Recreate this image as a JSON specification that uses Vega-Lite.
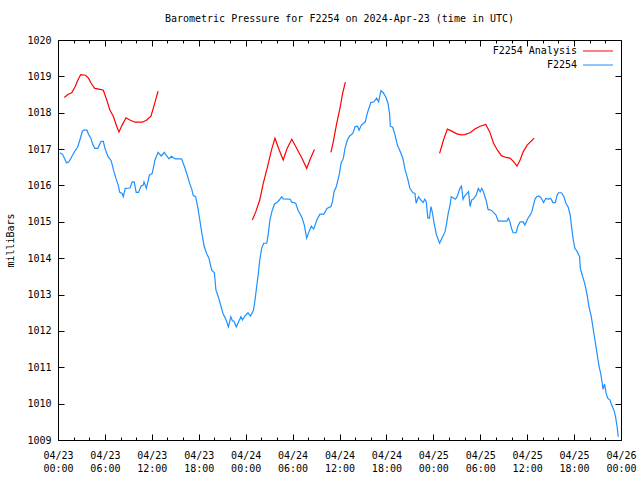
{
"$schema":"https://vega.github.io/schema/vega-lite/v6.json",
"width":563,"height":400,
"autosize":{"type":"none"},
"padding":{"left":58,"top":40,"right":19,"bottom":40},
"background":"white",
"title":{"text":"Barometric Pressure for F2254 on 2024-Apr-23 (time in UTC)","font":"DejaVu Sans Mono","fontSize":10,"fontWeight":"normal","color":"black","anchor":"middle","offset":11},
"data":{"values":[
{"t":"2024-04-23T00:15:00Z","p":1016.9,"s":"F2254","g":0},
{"t":"2024-04-23T00:36:00Z","p":1016.85,"s":"F2254","g":0},
{"t":"2024-04-23T01:06:00Z","p":1016.62,"s":"F2254","g":0},
{"t":"2024-04-23T01:24:00Z","p":1016.65,"s":"F2254","g":0},
{"t":"2024-04-23T01:45:00Z","p":1016.79,"s":"F2254","g":0},
{"t":"2024-04-23T02:12:00Z","p":1016.96,"s":"F2254","g":0},
{"t":"2024-04-23T02:30:00Z","p":1017.05,"s":"F2254","g":0},
{"t":"2024-04-23T02:48:00Z","p":1017.25,"s":"F2254","g":0},
{"t":"2024-04-23T03:06:00Z","p":1017.48,"s":"F2254","g":0},
{"t":"2024-04-23T03:15:00Z","p":1017.52,"s":"F2254","g":0},
{"t":"2024-04-23T03:42:00Z","p":1017.52,"s":"F2254","g":0},
{"t":"2024-04-23T03:54:00Z","p":1017.41,"s":"F2254","g":0},
{"t":"2024-04-23T04:12:00Z","p":1017.3,"s":"F2254","g":0},
{"t":"2024-04-23T04:24:00Z","p":1017.16,"s":"F2254","g":0},
{"t":"2024-04-23T04:42:00Z","p":1017.02,"s":"F2254","g":0},
{"t":"2024-04-23T05:06:00Z","p":1017.02,"s":"F2254","g":0},
{"t":"2024-04-23T05:30:00Z","p":1017.21,"s":"F2254","g":0},
{"t":"2024-04-23T05:48:00Z","p":1017.21,"s":"F2254","g":0},
{"t":"2024-04-23T06:00:00Z","p":1017.02,"s":"F2254","g":0},
{"t":"2024-04-23T06:24:00Z","p":1016.79,"s":"F2254","g":0},
{"t":"2024-04-23T06:48:00Z","p":1016.68,"s":"F2254","g":0},
{"t":"2024-04-23T07:06:00Z","p":1016.42,"s":"F2254","g":0},
{"t":"2024-04-23T07:24:00Z","p":1016.2,"s":"F2254","g":0},
{"t":"2024-04-23T07:42:00Z","p":1016.01,"s":"F2254","g":0},
{"t":"2024-04-23T07:54:00Z","p":1015.81,"s":"F2254","g":0},
{"t":"2024-04-23T08:12:00Z","p":1015.78,"s":"F2254","g":0},
{"t":"2024-04-23T08:21:00Z","p":1015.69,"s":"F2254","g":0},
{"t":"2024-04-23T08:36:00Z","p":1015.92,"s":"F2254","g":0},
{"t":"2024-04-23T09:12:00Z","p":1015.93,"s":"F2254","g":0},
{"t":"2024-04-23T09:30:00Z","p":1016.1,"s":"F2254","g":0},
{"t":"2024-04-23T09:45:00Z","p":1016.1,"s":"F2254","g":0},
{"t":"2024-04-23T10:00:00Z","p":1015.81,"s":"F2254","g":0},
{"t":"2024-04-23T10:18:00Z","p":1015.81,"s":"F2254","g":0},
{"t":"2024-04-23T10:36:00Z","p":1015.98,"s":"F2254","g":0},
{"t":"2024-04-23T10:54:00Z","p":1016.01,"s":"F2254","g":0},
{"t":"2024-04-23T11:00:00Z","p":1016.1,"s":"F2254","g":0},
{"t":"2024-04-23T11:18:00Z","p":1015.92,"s":"F2254","g":0},
{"t":"2024-04-23T11:42:00Z","p":1016.29,"s":"F2254","g":0},
{"t":"2024-04-23T12:03:00Z","p":1016.33,"s":"F2254","g":0},
{"t":"2024-04-23T12:24:00Z","p":1016.7,"s":"F2254","g":0},
{"t":"2024-04-23T12:48:00Z","p":1016.91,"s":"F2254","g":0},
{"t":"2024-04-23T13:12:00Z","p":1016.81,"s":"F2254","g":0},
{"t":"2024-04-23T13:36:00Z","p":1016.91,"s":"F2254","g":0},
{"t":"2024-04-23T13:54:00Z","p":1016.81,"s":"F2254","g":0},
{"t":"2024-04-23T14:12:00Z","p":1016.73,"s":"F2254","g":0},
{"t":"2024-04-23T14:30:00Z","p":1016.8,"s":"F2254","g":0},
{"t":"2024-04-23T15:00:00Z","p":1016.73,"s":"F2254","g":0},
{"t":"2024-04-23T15:48:00Z","p":1016.73,"s":"F2254","g":0},
{"t":"2024-04-23T16:12:00Z","p":1016.5,"s":"F2254","g":0},
{"t":"2024-04-23T16:30:00Z","p":1016.3,"s":"F2254","g":0},
{"t":"2024-04-23T16:51:00Z","p":1016.05,"s":"F2254","g":0},
{"t":"2024-04-23T17:06:00Z","p":1015.9,"s":"F2254","g":0},
{"t":"2024-04-23T17:18:00Z","p":1015.72,"s":"F2254","g":0},
{"t":"2024-04-23T17:36:00Z","p":1015.69,"s":"F2254","g":0},
{"t":"2024-04-23T17:54:00Z","p":1015.37,"s":"F2254","g":0},
{"t":"2024-04-23T18:12:00Z","p":1014.96,"s":"F2254","g":0},
{"t":"2024-04-23T18:24:00Z","p":1014.68,"s":"F2254","g":0},
{"t":"2024-04-23T18:42:00Z","p":1014.32,"s":"F2254","g":0},
{"t":"2024-04-23T19:00:00Z","p":1014.13,"s":"F2254","g":0},
{"t":"2024-04-23T19:18:00Z","p":1014.0,"s":"F2254","g":0},
{"t":"2024-04-23T19:39:00Z","p":1013.67,"s":"F2254","g":0},
{"t":"2024-04-23T20:00:00Z","p":1013.6,"s":"F2254","g":0},
{"t":"2024-04-23T20:12:00Z","p":1013.12,"s":"F2254","g":0},
{"t":"2024-04-23T20:30:00Z","p":1012.94,"s":"F2254","g":0},
{"t":"2024-04-23T20:48:00Z","p":1012.71,"s":"F2254","g":0},
{"t":"2024-04-23T21:06:00Z","p":1012.48,"s":"F2254","g":0},
{"t":"2024-04-23T21:30:00Z","p":1012.3,"s":"F2254","g":0},
{"t":"2024-04-23T21:48:00Z","p":1012.11,"s":"F2254","g":0},
{"t":"2024-04-23T22:06:00Z","p":1012.39,"s":"F2254","g":0},
{"t":"2024-04-23T22:18:00Z","p":1012.28,"s":"F2254","g":0},
{"t":"2024-04-23T22:30:00Z","p":1012.27,"s":"F2254","g":0},
{"t":"2024-04-23T22:48:00Z","p":1012.11,"s":"F2254","g":0},
{"t":"2024-04-23T23:06:00Z","p":1012.25,"s":"F2254","g":0},
{"t":"2024-04-23T23:24:00Z","p":1012.39,"s":"F2254","g":0},
{"t":"2024-04-23T23:36:00Z","p":1012.3,"s":"F2254","g":0},
{"t":"2024-04-23T23:54:00Z","p":1012.41,"s":"F2254","g":0},
{"t":"2024-04-24T00:18:00Z","p":1012.5,"s":"F2254","g":0},
{"t":"2024-04-24T00:36:00Z","p":1012.41,"s":"F2254","g":0},
{"t":"2024-04-24T01:00:00Z","p":1012.57,"s":"F2254","g":0},
{"t":"2024-04-24T01:12:00Z","p":1012.85,"s":"F2254","g":0},
{"t":"2024-04-24T01:24:00Z","p":1013.21,"s":"F2254","g":0},
{"t":"2024-04-24T01:36:00Z","p":1013.54,"s":"F2254","g":0},
{"t":"2024-04-24T01:48:00Z","p":1013.95,"s":"F2254","g":0},
{"t":"2024-04-24T02:03:00Z","p":1014.27,"s":"F2254","g":0},
{"t":"2024-04-24T02:18:00Z","p":1014.41,"s":"F2254","g":0},
{"t":"2024-04-24T02:42:00Z","p":1014.41,"s":"F2254","g":0},
{"t":"2024-04-24T02:54:00Z","p":1014.68,"s":"F2254","g":0},
{"t":"2024-04-24T03:06:00Z","p":1015.05,"s":"F2254","g":0},
{"t":"2024-04-24T03:24:00Z","p":1015.32,"s":"F2254","g":0},
{"t":"2024-04-24T03:42:00Z","p":1015.49,"s":"F2254","g":0},
{"t":"2024-04-24T04:00:00Z","p":1015.53,"s":"F2254","g":0},
{"t":"2024-04-24T04:18:00Z","p":1015.6,"s":"F2254","g":0},
{"t":"2024-04-24T04:36:00Z","p":1015.69,"s":"F2254","g":0},
{"t":"2024-04-24T04:48:00Z","p":1015.63,"s":"F2254","g":0},
{"t":"2024-04-24T05:42:00Z","p":1015.62,"s":"F2254","g":0},
{"t":"2024-04-24T05:54:00Z","p":1015.54,"s":"F2254","g":0},
{"t":"2024-04-24T06:24:00Z","p":1015.51,"s":"F2254","g":0},
{"t":"2024-04-24T06:42:00Z","p":1015.32,"s":"F2254","g":0},
{"t":"2024-04-24T07:12:00Z","p":1015.12,"s":"F2254","g":0},
{"t":"2024-04-24T07:30:00Z","p":1014.91,"s":"F2254","g":0},
{"t":"2024-04-24T07:48:00Z","p":1014.55,"s":"F2254","g":0},
{"t":"2024-04-24T08:06:00Z","p":1014.73,"s":"F2254","g":0},
{"t":"2024-04-24T08:24:00Z","p":1014.88,"s":"F2254","g":0},
{"t":"2024-04-24T08:42:00Z","p":1014.8,"s":"F2254","g":0},
{"t":"2024-04-24T09:06:00Z","p":1015.05,"s":"F2254","g":0},
{"t":"2024-04-24T09:30:00Z","p":1015.21,"s":"F2254","g":0},
{"t":"2024-04-24T10:00:00Z","p":1015.21,"s":"F2254","g":0},
{"t":"2024-04-24T10:24:00Z","p":1015.37,"s":"F2254","g":0},
{"t":"2024-04-24T10:54:00Z","p":1015.42,"s":"F2254","g":0},
{"t":"2024-04-24T11:06:00Z","p":1015.55,"s":"F2254","g":0},
{"t":"2024-04-24T11:18:00Z","p":1015.83,"s":"F2254","g":0},
{"t":"2024-04-24T11:36:00Z","p":1015.97,"s":"F2254","g":0},
{"t":"2024-04-24T12:00:00Z","p":1016.33,"s":"F2254","g":0},
{"t":"2024-04-24T12:12:00Z","p":1016.61,"s":"F2254","g":0},
{"t":"2024-04-24T12:30:00Z","p":1016.75,"s":"F2254","g":0},
{"t":"2024-04-24T12:42:00Z","p":1017.02,"s":"F2254","g":0},
{"t":"2024-04-24T13:00:00Z","p":1017.25,"s":"F2254","g":0},
{"t":"2024-04-24T13:18:00Z","p":1017.36,"s":"F2254","g":0},
{"t":"2024-04-24T13:42:00Z","p":1017.43,"s":"F2254","g":0},
{"t":"2024-04-24T14:00:00Z","p":1017.62,"s":"F2254","g":0},
{"t":"2024-04-24T14:18:00Z","p":1017.63,"s":"F2254","g":0},
{"t":"2024-04-24T14:30:00Z","p":1017.52,"s":"F2254","g":0},
{"t":"2024-04-24T14:48:00Z","p":1017.66,"s":"F2254","g":0},
{"t":"2024-04-24T15:18:00Z","p":1017.75,"s":"F2254","g":0},
{"t":"2024-04-24T15:33:00Z","p":1017.98,"s":"F2254","g":0},
{"t":"2024-04-24T16:00:00Z","p":1018.28,"s":"F2254","g":0},
{"t":"2024-04-24T16:24:00Z","p":1018.3,"s":"F2254","g":0},
{"t":"2024-04-24T16:45:00Z","p":1018.4,"s":"F2254","g":0},
{"t":"2024-04-24T17:00:00Z","p":1018.3,"s":"F2254","g":0},
{"t":"2024-04-24T17:18:00Z","p":1018.61,"s":"F2254","g":0},
{"t":"2024-04-24T17:36:00Z","p":1018.55,"s":"F2254","g":0},
{"t":"2024-04-24T17:54:00Z","p":1018.44,"s":"F2254","g":0},
{"t":"2024-04-24T18:12:00Z","p":1018.26,"s":"F2254","g":0},
{"t":"2024-04-24T18:24:00Z","p":1017.98,"s":"F2254","g":0},
{"t":"2024-04-24T18:30:00Z","p":1017.63,"s":"F2254","g":0},
{"t":"2024-04-24T18:48:00Z","p":1017.6,"s":"F2254","g":0},
{"t":"2024-04-24T19:06:00Z","p":1017.39,"s":"F2254","g":0},
{"t":"2024-04-24T19:24:00Z","p":1017.11,"s":"F2254","g":0},
{"t":"2024-04-24T19:42:00Z","p":1016.97,"s":"F2254","g":0},
{"t":"2024-04-24T20:06:00Z","p":1016.75,"s":"F2254","g":0},
{"t":"2024-04-24T20:24:00Z","p":1016.42,"s":"F2254","g":0},
{"t":"2024-04-24T20:42:00Z","p":1016.2,"s":"F2254","g":0},
{"t":"2024-04-24T21:00:00Z","p":1015.92,"s":"F2254","g":0},
{"t":"2024-04-24T21:24:00Z","p":1015.8,"s":"F2254","g":0},
{"t":"2024-04-24T21:39:00Z","p":1015.78,"s":"F2254","g":0},
{"t":"2024-04-24T21:48:00Z","p":1015.51,"s":"F2254","g":0},
{"t":"2024-04-24T22:06:00Z","p":1015.69,"s":"F2254","g":0},
{"t":"2024-04-24T22:24:00Z","p":1015.6,"s":"F2254","g":0},
{"t":"2024-04-24T22:42:00Z","p":1015.53,"s":"F2254","g":0},
{"t":"2024-04-24T22:54:00Z","p":1015.62,"s":"F2254","g":0},
{"t":"2024-04-24T23:06:00Z","p":1015.55,"s":"F2254","g":0},
{"t":"2024-04-24T23:18:00Z","p":1015.1,"s":"F2254","g":0},
{"t":"2024-04-24T23:30:00Z","p":1015.1,"s":"F2254","g":0},
{"t":"2024-04-24T23:42:00Z","p":1015.42,"s":"F2254","g":0},
{"t":"2024-04-24T23:54:00Z","p":1015.23,"s":"F2254","g":0},
{"t":"2024-04-25T00:06:00Z","p":1014.96,"s":"F2254","g":0},
{"t":"2024-04-25T00:24:00Z","p":1014.64,"s":"F2254","g":0},
{"t":"2024-04-25T00:48:00Z","p":1014.41,"s":"F2254","g":0},
{"t":"2024-04-25T01:06:00Z","p":1014.55,"s":"F2254","g":0},
{"t":"2024-04-25T01:30:00Z","p":1014.73,"s":"F2254","g":0},
{"t":"2024-04-25T01:42:00Z","p":1014.96,"s":"F2254","g":0},
{"t":"2024-04-25T01:54:00Z","p":1015.23,"s":"F2254","g":0},
{"t":"2024-04-25T02:06:00Z","p":1015.42,"s":"F2254","g":0},
{"t":"2024-04-25T02:18:00Z","p":1015.69,"s":"F2254","g":0},
{"t":"2024-04-25T02:48:00Z","p":1015.62,"s":"F2254","g":0},
{"t":"2024-04-25T03:00:00Z","p":1015.67,"s":"F2254","g":0},
{"t":"2024-04-25T03:24:00Z","p":1015.92,"s":"F2254","g":0},
{"t":"2024-04-25T03:36:00Z","p":1015.98,"s":"F2254","g":0},
{"t":"2024-04-25T03:48:00Z","p":1015.62,"s":"F2254","g":0},
{"t":"2024-04-25T04:00:00Z","p":1015.71,"s":"F2254","g":0},
{"t":"2024-04-25T04:30:00Z","p":1015.83,"s":"F2254","g":0},
{"t":"2024-04-25T04:42:00Z","p":1015.42,"s":"F2254","g":0},
{"t":"2024-04-25T04:54:00Z","p":1015.6,"s":"F2254","g":0},
{"t":"2024-04-25T05:06:00Z","p":1015.62,"s":"F2254","g":0},
{"t":"2024-04-25T05:30:00Z","p":1015.74,"s":"F2254","g":0},
{"t":"2024-04-25T05:45:00Z","p":1015.92,"s":"F2254","g":0},
{"t":"2024-04-25T06:00:00Z","p":1015.83,"s":"F2254","g":0},
{"t":"2024-04-25T06:12:00Z","p":1015.92,"s":"F2254","g":0},
{"t":"2024-04-25T06:24:00Z","p":1015.83,"s":"F2254","g":0},
{"t":"2024-04-25T06:36:00Z","p":1015.69,"s":"F2254","g":0},
{"t":"2024-04-25T06:48:00Z","p":1015.55,"s":"F2254","g":0},
{"t":"2024-04-25T07:00:00Z","p":1015.34,"s":"F2254","g":0},
{"t":"2024-04-25T07:24:00Z","p":1015.32,"s":"F2254","g":0},
{"t":"2024-04-25T08:00:00Z","p":1015.19,"s":"F2254","g":0},
{"t":"2024-04-25T08:18:00Z","p":1015.02,"s":"F2254","g":0},
{"t":"2024-04-25T09:24:00Z","p":1015.02,"s":"F2254","g":0},
{"t":"2024-04-25T09:36:00Z","p":1015.1,"s":"F2254","g":0},
{"t":"2024-04-25T09:48:00Z","p":1015.0,"s":"F2254","g":0},
{"t":"2024-04-25T10:00:00Z","p":1014.82,"s":"F2254","g":0},
{"t":"2024-04-25T10:12:00Z","p":1014.7,"s":"F2254","g":0},
{"t":"2024-04-25T10:36:00Z","p":1014.7,"s":"F2254","g":0},
{"t":"2024-04-25T10:48:00Z","p":1014.88,"s":"F2254","g":0},
{"t":"2024-04-25T11:06:00Z","p":1015.0,"s":"F2254","g":0},
{"t":"2024-04-25T11:30:00Z","p":1015.0,"s":"F2254","g":0},
{"t":"2024-04-25T11:42:00Z","p":1014.91,"s":"F2254","g":0},
{"t":"2024-04-25T11:54:00Z","p":1015.0,"s":"F2254","g":0},
{"t":"2024-04-25T12:06:00Z","p":1015.1,"s":"F2254","g":0},
{"t":"2024-04-25T12:24:00Z","p":1015.19,"s":"F2254","g":0},
{"t":"2024-04-25T12:36:00Z","p":1015.28,"s":"F2254","g":0},
{"t":"2024-04-25T12:48:00Z","p":1015.46,"s":"F2254","g":0},
{"t":"2024-04-25T13:00:00Z","p":1015.62,"s":"F2254","g":0},
{"t":"2024-04-25T13:12:00Z","p":1015.69,"s":"F2254","g":0},
{"t":"2024-04-25T13:30:00Z","p":1015.71,"s":"F2254","g":0},
{"t":"2024-04-25T13:48:00Z","p":1015.65,"s":"F2254","g":0},
{"t":"2024-04-25T14:06:00Z","p":1015.53,"s":"F2254","g":0},
{"t":"2024-04-25T14:24:00Z","p":1015.65,"s":"F2254","g":0},
{"t":"2024-04-25T14:42:00Z","p":1015.62,"s":"F2254","g":0},
{"t":"2024-04-25T15:00:00Z","p":1015.65,"s":"F2254","g":0},
{"t":"2024-04-25T15:18:00Z","p":1015.53,"s":"F2254","g":0},
{"t":"2024-04-25T15:36:00Z","p":1015.53,"s":"F2254","g":0},
{"t":"2024-04-25T15:48:00Z","p":1015.71,"s":"F2254","g":0},
{"t":"2024-04-25T16:00:00Z","p":1015.8,"s":"F2254","g":0},
{"t":"2024-04-25T16:24:00Z","p":1015.8,"s":"F2254","g":0},
{"t":"2024-04-25T16:42:00Z","p":1015.69,"s":"F2254","g":0},
{"t":"2024-04-25T17:00:00Z","p":1015.49,"s":"F2254","g":0},
{"t":"2024-04-25T17:15:00Z","p":1015.4,"s":"F2254","g":0},
{"t":"2024-04-25T17:30:00Z","p":1015.19,"s":"F2254","g":0},
{"t":"2024-04-25T17:42:00Z","p":1014.82,"s":"F2254","g":0},
{"t":"2024-04-25T17:54:00Z","p":1014.5,"s":"F2254","g":0},
{"t":"2024-04-25T18:06:00Z","p":1014.27,"s":"F2254","g":0},
{"t":"2024-04-25T18:24:00Z","p":1014.18,"s":"F2254","g":0},
{"t":"2024-04-25T18:42:00Z","p":1014.04,"s":"F2254","g":0},
{"t":"2024-04-25T18:48:00Z","p":1013.72,"s":"F2254","g":0},
{"t":"2024-04-25T19:06:00Z","p":1013.49,"s":"F2254","g":0},
{"t":"2024-04-25T19:18:00Z","p":1013.35,"s":"F2254","g":0},
{"t":"2024-04-25T19:30:00Z","p":1013.17,"s":"F2254","g":0},
{"t":"2024-04-25T19:42:00Z","p":1012.94,"s":"F2254","g":0},
{"t":"2024-04-25T19:54:00Z","p":1012.67,"s":"F2254","g":0},
{"t":"2024-04-25T20:12:00Z","p":1012.39,"s":"F2254","g":0},
{"t":"2024-04-25T20:24:00Z","p":1012.11,"s":"F2254","g":0},
{"t":"2024-04-25T20:36:00Z","p":1011.84,"s":"F2254","g":0},
{"t":"2024-04-25T20:48:00Z","p":1011.57,"s":"F2254","g":0},
{"t":"2024-04-25T21:00:00Z","p":1011.29,"s":"F2254","g":0},
{"t":"2024-04-25T21:12:00Z","p":1011.02,"s":"F2254","g":0},
{"t":"2024-04-25T21:24:00Z","p":1010.83,"s":"F2254","g":0},
{"t":"2024-04-25T21:36:00Z","p":1010.56,"s":"F2254","g":0},
{"t":"2024-04-25T21:42:00Z","p":1010.39,"s":"F2254","g":0},
{"t":"2024-04-25T21:54:00Z","p":1010.54,"s":"F2254","g":0},
{"t":"2024-04-25T22:06:00Z","p":1010.28,"s":"F2254","g":0},
{"t":"2024-04-25T22:18:00Z","p":1010.15,"s":"F2254","g":0},
{"t":"2024-04-25T22:36:00Z","p":1010.1,"s":"F2254","g":0},
{"t":"2024-04-25T22:48:00Z","p":1009.96,"s":"F2254","g":0},
{"t":"2024-04-25T23:06:00Z","p":1009.82,"s":"F2254","g":0},
{"t":"2024-04-25T23:18:00Z","p":1009.64,"s":"F2254","g":0},
{"t":"2024-04-25T23:30:00Z","p":1009.37,"s":"F2254","g":0},
{"t":"2024-04-25T23:39:00Z","p":1009.09,"s":"F2254","g":0},
{"t":"2024-04-23T00:48:00Z","p":1018.42,"s":"F2254 Analysis","g":1},
{"t":"2024-04-23T01:15:00Z","p":1018.5,"s":"F2254 Analysis","g":1},
{"t":"2024-04-23T01:45:00Z","p":1018.55,"s":"F2254 Analysis","g":1},
{"t":"2024-04-23T02:12:00Z","p":1018.72,"s":"F2254 Analysis","g":1},
{"t":"2024-04-23T02:30:00Z","p":1018.88,"s":"F2254 Analysis","g":1},
{"t":"2024-04-23T02:54:00Z","p":1019.05,"s":"F2254 Analysis","g":1},
{"t":"2024-04-23T03:30:00Z","p":1019.03,"s":"F2254 Analysis","g":1},
{"t":"2024-04-23T03:54:00Z","p":1018.95,"s":"F2254 Analysis","g":1},
{"t":"2024-04-23T04:18:00Z","p":1018.79,"s":"F2254 Analysis","g":1},
{"t":"2024-04-23T04:42:00Z","p":1018.67,"s":"F2254 Analysis","g":1},
{"t":"2024-04-23T05:24:00Z","p":1018.64,"s":"F2254 Analysis","g":1},
{"t":"2024-04-23T05:48:00Z","p":1018.62,"s":"F2254 Analysis","g":1},
{"t":"2024-04-23T06:12:00Z","p":1018.37,"s":"F2254 Analysis","g":1},
{"t":"2024-04-23T06:39:00Z","p":1018.07,"s":"F2254 Analysis","g":1},
{"t":"2024-04-23T07:06:00Z","p":1017.89,"s":"F2254 Analysis","g":1},
{"t":"2024-04-23T07:30:00Z","p":1017.63,"s":"F2254 Analysis","g":1},
{"t":"2024-04-23T07:48:00Z","p":1017.47,"s":"F2254 Analysis","g":1},
{"t":"2024-04-23T08:12:00Z","p":1017.66,"s":"F2254 Analysis","g":1},
{"t":"2024-04-23T08:42:00Z","p":1017.86,"s":"F2254 Analysis","g":1},
{"t":"2024-04-23T09:12:00Z","p":1017.8,"s":"F2254 Analysis","g":1},
{"t":"2024-04-23T09:51:00Z","p":1017.74,"s":"F2254 Analysis","g":1},
{"t":"2024-04-23T10:48:00Z","p":1017.74,"s":"F2254 Analysis","g":1},
{"t":"2024-04-23T11:21:00Z","p":1017.8,"s":"F2254 Analysis","g":1},
{"t":"2024-04-23T11:54:00Z","p":1017.91,"s":"F2254 Analysis","g":1},
{"t":"2024-04-23T12:18:00Z","p":1018.21,"s":"F2254 Analysis","g":1},
{"t":"2024-04-23T12:48:00Z","p":1018.59,"s":"F2254 Analysis","g":1},
{"t":"2024-04-24T00:51:00Z","p":1015.05,"s":"F2254 Analysis","g":2},
{"t":"2024-04-24T01:18:00Z","p":1015.28,"s":"F2254 Analysis","g":2},
{"t":"2024-04-24T01:48:00Z","p":1015.6,"s":"F2254 Analysis","g":2},
{"t":"2024-04-24T02:15:00Z","p":1016.06,"s":"F2254 Analysis","g":2},
{"t":"2024-04-24T02:48:00Z","p":1016.52,"s":"F2254 Analysis","g":2},
{"t":"2024-04-24T03:18:00Z","p":1016.97,"s":"F2254 Analysis","g":2},
{"t":"2024-04-24T03:45:00Z","p":1017.3,"s":"F2254 Analysis","g":2},
{"t":"2024-04-24T04:18:00Z","p":1016.97,"s":"F2254 Analysis","g":2},
{"t":"2024-04-24T04:48:00Z","p":1016.7,"s":"F2254 Analysis","g":2},
{"t":"2024-04-24T05:18:00Z","p":1017.02,"s":"F2254 Analysis","g":2},
{"t":"2024-04-24T05:54:00Z","p":1017.27,"s":"F2254 Analysis","g":2},
{"t":"2024-04-24T06:24:00Z","p":1017.07,"s":"F2254 Analysis","g":2},
{"t":"2024-04-24T07:12:00Z","p":1016.75,"s":"F2254 Analysis","g":2},
{"t":"2024-04-24T07:48:00Z","p":1016.47,"s":"F2254 Analysis","g":2},
{"t":"2024-04-24T08:18:00Z","p":1016.75,"s":"F2254 Analysis","g":2},
{"t":"2024-04-24T08:48:00Z","p":1016.99,"s":"F2254 Analysis","g":2},
{"t":"2024-04-24T10:54:00Z","p":1016.91,"s":"F2254 Analysis","g":3},
{"t":"2024-04-24T11:12:00Z","p":1017.2,"s":"F2254 Analysis","g":3},
{"t":"2024-04-24T11:36:00Z","p":1017.66,"s":"F2254 Analysis","g":3},
{"t":"2024-04-24T12:06:00Z","p":1018.17,"s":"F2254 Analysis","g":3},
{"t":"2024-04-24T12:24:00Z","p":1018.53,"s":"F2254 Analysis","g":3},
{"t":"2024-04-24T12:45:00Z","p":1018.84,"s":"F2254 Analysis","g":3},
{"t":"2024-04-25T00:48:00Z","p":1016.88,"s":"F2254 Analysis","g":4},
{"t":"2024-04-25T01:18:00Z","p":1017.25,"s":"F2254 Analysis","g":4},
{"t":"2024-04-25T01:48:00Z","p":1017.55,"s":"F2254 Analysis","g":4},
{"t":"2024-04-25T02:18:00Z","p":1017.5,"s":"F2254 Analysis","g":4},
{"t":"2024-04-25T03:00:00Z","p":1017.42,"s":"F2254 Analysis","g":4},
{"t":"2024-04-25T03:36:00Z","p":1017.39,"s":"F2254 Analysis","g":4},
{"t":"2024-04-25T04:00:00Z","p":1017.4,"s":"F2254 Analysis","g":4},
{"t":"2024-04-25T04:42:00Z","p":1017.45,"s":"F2254 Analysis","g":4},
{"t":"2024-04-25T05:18:00Z","p":1017.55,"s":"F2254 Analysis","g":4},
{"t":"2024-04-25T06:00:00Z","p":1017.63,"s":"F2254 Analysis","g":4},
{"t":"2024-04-25T06:42:00Z","p":1017.68,"s":"F2254 Analysis","g":4},
{"t":"2024-04-25T07:12:00Z","p":1017.48,"s":"F2254 Analysis","g":4},
{"t":"2024-04-25T07:42:00Z","p":1017.16,"s":"F2254 Analysis","g":4},
{"t":"2024-04-25T08:12:00Z","p":1016.97,"s":"F2254 Analysis","g":4},
{"t":"2024-04-25T08:42:00Z","p":1016.82,"s":"F2254 Analysis","g":4},
{"t":"2024-04-25T09:18:00Z","p":1016.77,"s":"F2254 Analysis","g":4},
{"t":"2024-04-25T09:48:00Z","p":1016.75,"s":"F2254 Analysis","g":4},
{"t":"2024-04-25T10:18:00Z","p":1016.65,"s":"F2254 Analysis","g":4},
{"t":"2024-04-25T10:42:00Z","p":1016.53,"s":"F2254 Analysis","g":4},
{"t":"2024-04-25T11:06:00Z","p":1016.7,"s":"F2254 Analysis","g":4},
{"t":"2024-04-25T11:30:00Z","p":1016.93,"s":"F2254 Analysis","g":4},
{"t":"2024-04-25T12:00:00Z","p":1017.11,"s":"F2254 Analysis","g":4},
{"t":"2024-04-25T12:54:00Z","p":1017.3,"s":"F2254 Analysis","g":4}
]},
"layer":[
{"mark":{"type":"line","strokeWidth":1.2},
 "encoding":{
  "x":{"field":"t","type":"temporal","scale":{"type":"utc","domain":[1713830400000,1714089600000]},
       "axis":{"orient":"bottom","ticks":false,"values":[1713830400000,1713852000000,1713873600000,1713895200000,1713916800000,1713938400000,1713960000000,1713981600000,1714003200000,1714024800000,1714046400000,1714068000000,1714089600000],"labelExpr":"[utcFormat(datum.value,'%m/%d'),utcFormat(datum.value,'%H:%M')]","labelPadding":10,"labelLineHeight":13,"labelFlush":false,"labelBound":false,"labelOverlap":false,"title":null}},
  "y":{"field":"p","type":"quantitative","scale":{"domain":[1009,1020],"nice":false,"zero":false},
       "axis":{"orient":"left","ticks":false,"values":[1009,1010,1011,1012,1013,1014,1015,1016,1017,1018,1019,1020],"format":"d","labelPadding":7,"labelFlush":false,"labelOverlap":false,"title":"milliBars","titlePadding":11}},
  "color":{"field":"s","type":"nominal","scale":{"domain":["F2254 Analysis","F2254"],"range":["#ff0000","#1e90ff"]},
           "legend":{"title":null,"orient":"top-right","offset":6,"padding":0,"symbolType":"M-5,0H5","symbolSize":36,"symbolStrokeWidth":1,"labelAlign":"right","labelOffset":-26,"labelFont":"DejaVu Sans Mono","labelFontSize":10,"labelColor":"black","rowPadding":4}},
  "detail":{"field":"g","type":"nominal"}
 }},
{"mark":{"type":"line","opacity":0},
 "encoding":{
  "x":{"field":"t","type":"temporal","scale":{"type":"utc","domain":[1713830400000,1714089600000]},
       "axis":{"orient":"bottom","labels":false,"tickSize":-6,"values":[1713830400000,1713852000000,1713873600000,1713895200000,1713916800000,1713938400000,1713960000000,1713981600000,1714003200000,1714024800000,1714046400000,1714068000000,1714089600000],"title":null}},
  "y":{"field":"p","type":"quantitative","scale":{"domain":[1009,1020],"nice":false,"zero":false},
       "axis":{"orient":"left","labels":false,"tickSize":-6,"values":[1009,1010,1011,1012,1013,1014,1015,1016,1017,1018,1019,1020],"title":null}},
  "detail":{"field":"g","type":"nominal"}
 }},
{"mark":{"type":"line","opacity":0},
 "encoding":{
  "x":{"field":"t","type":"temporal","scale":{"type":"utc","domain":[1713830400000,1714089600000]},
       "axis":{"orient":"top","labels":false,"tickSize":-6,"values":[1713830400000,1713852000000,1713873600000,1713895200000,1713916800000,1713938400000,1713960000000,1713981600000,1714003200000,1714024800000,1714046400000,1714068000000,1714089600000],"title":null}},
  "y":{"field":"p","type":"quantitative","scale":{"domain":[1009,1020],"nice":false,"zero":false},
       "axis":{"orient":"right","labels":false,"tickSize":-6,"values":[1009,1010,1011,1012,1013,1014,1015,1016,1017,1018,1019,1020],"title":null}},
  "detail":{"field":"g","type":"nominal"}
 }},
{"mark":{"type":"line","opacity":0},
 "encoding":{
  "x":{"field":"t","type":"temporal","scale":{"type":"utc","domain":[1713830400000,1714089600000]},
       "axis":{"orient":"bottom","labels":false,"tickSize":-3,"values":[1713837600000,1713844800000,1713859200000,1713866400000,1713880800000,1713888000000,1713902400000,1713909600000,1713924000000,1713931200000,1713945600000,1713952800000,1713967200000,1713974400000,1713988800000,1713996000000,1714010400000,1714017600000,1714032000000,1714039200000,1714053600000,1714060800000,1714075200000,1714082400000],"title":null}},
  "y":{"field":"p","type":"quantitative","scale":{"domain":[1009,1020],"nice":false,"zero":false},"axis":null},
  "detail":{"field":"g","type":"nominal"}
 }},
{"mark":{"type":"line","opacity":0},
 "encoding":{
  "x":{"field":"t","type":"temporal","scale":{"type":"utc","domain":[1713830400000,1714089600000]},
       "axis":{"orient":"top","labels":false,"tickSize":-3,"values":[1713837600000,1713844800000,1713859200000,1713866400000,1713880800000,1713888000000,1713902400000,1713909600000,1713924000000,1713931200000,1713945600000,1713952800000,1713967200000,1713974400000,1713988800000,1713996000000,1714010400000,1714017600000,1714032000000,1714039200000,1714053600000,1714060800000,1714075200000,1714082400000],"title":null}},
  "y":{"field":"p","type":"quantitative","scale":{"domain":[1009,1020],"nice":false,"zero":false},"axis":null},
  "detail":{"field":"g","type":"nominal"}
 }}
],
"resolve":{"axis":{"x":"independent","y":"independent"}},
"config":{
 "view":{"stroke":"black","strokeWidth":1},
 "axis":{"domain":false,"grid":false,"labelFont":"DejaVu Sans Mono","labelFontSize":10,"labelColor":"black","tickColor":"black","tickWidth":1,"titleFont":"DejaVu Sans Mono","titleFontSize":10,"titleFontWeight":"normal","titleColor":"black"},
 "legend":{"labelFont":"DejaVu Sans Mono"}
}
}
